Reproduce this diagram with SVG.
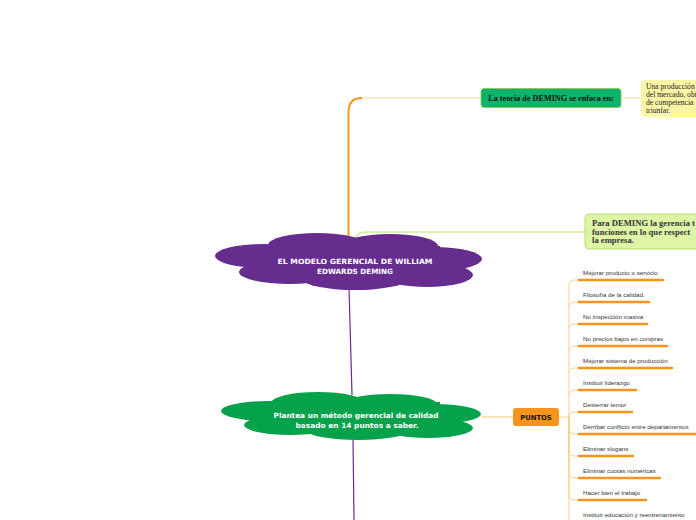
<svg xmlns="http://www.w3.org/2000/svg" width="696" height="520" viewBox="0 0 696 520">
<style>
.item{font-family:"Liberation Sans",Arial,sans-serif;font-size:6.2px;fill:#333}
.bar{stroke:#f7941d;stroke-width:2.5;stroke-linecap:round}
.br{fill:none;stroke:#fdd08c;stroke-width:1}
.cw{font-family:"DejaVu Sans",Verdana,sans-serif;font-weight:bold;font-size:7.2px;fill:#fff;text-anchor:middle}
</style>
<rect width="696" height="520" fill="#fff"/>
<g id="connectors">
  <path d="M348.5,256 V112 Q348.5,98 362,98" fill="none" stroke="#f7941d" stroke-width="2"/>
  <path d="M362,98 H481" fill="none" stroke="#fde3bf" stroke-width="1.5"/>
  <path d="M621,98 H641" fill="none" stroke="#fde3bf" stroke-width="1.5"/>
  <path d="M351,245 Q356,232 366,232 H585" fill="none" stroke="#c8f08e" stroke-width="1.5"/>
  <path d="M349,288 L352,395" fill="none" stroke="#6a2c91" stroke-width="1.2"/>
  <path d="M353,438 L354,520" fill="none" stroke="#6a2c91" stroke-width="1.2"/>
  <path d="M481,417 H513" fill="none" stroke="#fdd08c" stroke-width="1.2"/>
  <path class="br" d="M559,417 H569 V285 Q569,280 575,280 H578"/>
  <path class="br" d="M569,307 Q569,302 575,302 H578"/>
  <path class="br" d="M569,329 Q569,324 575,324 H578"/>
  <path class="br" d="M569,351 Q569,346 575,346 H578"/>
  <path class="br" d="M569,373 Q569,368 575,368 H578"/>
  <path class="br" d="M569,395 Q569,390 575,390 H578"/>
  <path class="br" d="M569,417 Q569,412 575,412 H578"/>
  <path class="br" d="M569,417 V429 Q569,434 575,434 H578"/>
  <path class="br" d="M569,417 V451 Q569,456 575,456 H578"/>
  <path class="br" d="M569,417 V473 Q569,478 575,478 H578"/>
  <path class="br" d="M569,417 V495 Q569,500 575,500 H578"/>
  <path class="br" d="M569,417 V520"/>
</g>
<g id="central">
  <g fill="#662d8f">
    <ellipse cx="263" cy="256" rx="48" ry="12"/>
    <ellipse cx="317" cy="245" rx="49" ry="12"/>
    <ellipse cx="390" cy="246" rx="48" ry="12"/>
    <ellipse cx="434" cy="259" rx="48" ry="12"/>
    <ellipse cx="427" cy="275" rx="46" ry="12"/>
    <ellipse cx="355" cy="279" rx="52" ry="11"/>
    <ellipse cx="290" cy="272" rx="51" ry="12"/>
    <rect x="270" y="246" width="170" height="32"/>
  </g>
  <text class="cw" x="355" y="264" textLength="155" lengthAdjust="spacingAndGlyphs">EL MODELO GERENCIAL DE WILLIAM</text>
  <text class="cw" x="355" y="273.5">EDWARDS DEMING</text>
</g>
<g id="plantea">
  <g fill="#05a24b">
    <ellipse cx="268" cy="411" rx="47" ry="10"/>
    <ellipse cx="318" cy="403" rx="47" ry="11"/>
    <ellipse cx="390" cy="404" rx="47" ry="10"/>
    <ellipse cx="434" cy="414" rx="47" ry="10"/>
    <ellipse cx="428" cy="428" rx="45" ry="10"/>
    <ellipse cx="358" cy="431" rx="50" ry="9"/>
    <ellipse cx="290" cy="425" rx="46" ry="10"/>
    <rect x="270" y="402" width="170" height="28"/>
  </g>
  <text class="cw" x="356" y="418" textLength="165" lengthAdjust="spacingAndGlyphs">Plantea un método gerencial de calidad</text>
  <text class="cw" x="357" y="427.5" textLength="123" lengthAdjust="spacingAndGlyphs">basado en 14 puntos a saber.</text>
</g>
<g id="teoria">
  <rect x="481" y="88.5" width="140" height="19" rx="3" fill="#0db36c" stroke="#8fc84a" stroke-width="0.8"/>
  <text x="551" y="101" text-anchor="middle" font-family="'Liberation Serif','Times New Roman',serif" font-weight="bold" font-size="8.2px" fill="#111">La teoria de DEMING se enfoca en:</text>
</g>
<g id="nota-produccion">
  <rect x="641" y="80" width="70" height="37" rx="4" fill="#fdf5a6"/>
  <g font-family="'Liberation Serif','Times New Roman',serif" font-size="7.6px" fill="#222">
    <text x="646" y="89">Una producción</text>
    <text x="646" y="97">del mercado, obt</text>
    <text x="646" y="105">de competencia</text>
    <text x="646" y="113">triunfar.</text>
  </g>
</g>
<g id="nota-gerencia">
  <rect x="585" y="214" width="125" height="35" rx="4" fill="#dff5a6" stroke="#a9d65a" stroke-width="0.8"/>
  <g font-family="'Liberation Serif','Times New Roman',serif" font-weight="bold" font-size="8.6px" fill="#333">
    <text x="592" y="226">Para DEMING la gerencia t</text>
    <text x="592" y="234.5">funciones en lo que respect</text>
    <text x="592" y="243">la empresa.</text>
  </g>
</g>
<g id="puntos">
  <rect x="513" y="408" width="46" height="18" rx="3" fill="#f7941d"/>
  <text x="536" y="420" text-anchor="middle" font-family="'DejaVu Sans',Verdana,sans-serif" font-weight="bold" font-size="6.8px" fill="#111">PUNTOS</text>
</g>
<g id="p1"><text class="item" x="583" y="274.5">Mejorar producto o servicio</text><line class="bar" x1="579" y1="280" x2="663" y2="280"/></g>
<g id="p2"><text class="item" x="583" y="296.5">Filosofía de la calidad.</text><line class="bar" x1="579" y1="302" x2="649" y2="302"/></g>
<g id="p3"><text class="item" x="583" y="318.5">No inspección masiva</text><line class="bar" x1="579" y1="324" x2="647" y2="324"/></g>
<g id="p4"><text class="item" x="583" y="340.5">No precios bajos en compras</text><line class="bar" x1="579" y1="346" x2="667" y2="346"/></g>
<g id="p5"><text class="item" x="583" y="362.5">Mejorar sistema de producción</text><line class="bar" x1="579" y1="368" x2="672" y2="368"/></g>
<g id="p6"><text class="item" x="583" y="384.5">Instituir liderazgo</text><line class="bar" x1="579" y1="390" x2="636" y2="390"/></g>
<g id="p7"><text class="item" x="583" y="406.5">Desterrar temor</text><line class="bar" x1="579" y1="412" x2="632" y2="412"/></g>
<g id="p8"><text class="item" x="583" y="428.5">Derribar conflicto entre departamentos</text><line class="bar" x1="579" y1="434" x2="698" y2="434"/></g>
<g id="p9"><text class="item" x="583" y="450.5">Eliminar slogans</text><line class="bar" x1="579" y1="456" x2="633" y2="456"/></g>
<g id="p10"><text class="item" x="583" y="472.5">Eliminar cuotas numéricas</text><line class="bar" x1="579" y1="478" x2="660" y2="478"/></g>
<g id="p11"><text class="item" x="583" y="494.5">Hacer bien el trabajo</text><line class="bar" x1="579" y1="500" x2="646" y2="500"/></g>
<g id="p12"><text class="item" x="583" y="516.5">Instituir educación y reentrenamiento</text><line class="bar" x1="579" y1="522" x2="690" y2="522"/></g>
</svg>
